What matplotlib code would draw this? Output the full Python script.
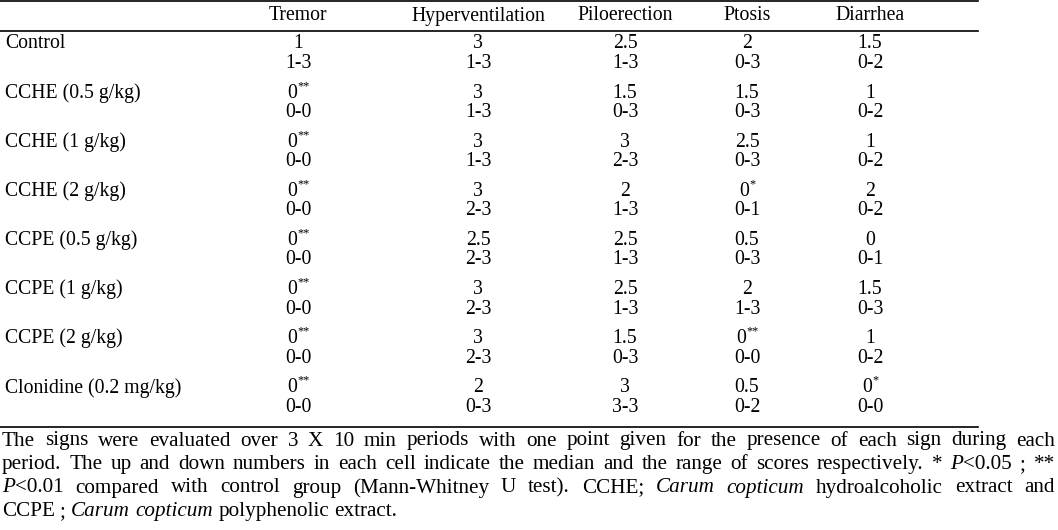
import matplotlib
matplotlib.use('Agg')
import matplotlib.pyplot as plt

plt.rcParams['font.family'] = ['Liberation Serif', 'DejaVu Serif']

columns = ['Tremor', 'Hyperventilation', 'Piloerection', 'Ptosis', 'Diarrhea']
groups = ['Control', 'CCHE (0.5 g/kg)', 'CCHE (1 g/kg)', 'CCHE (2 g/kg)',
          'CCPE (0.5 g/kg)', 'CCPE (1 g/kg)', 'CCPE (2 g/kg)', 'Clonidine (0.2 mg/kg)']
medians = [
    ['1', '3', '2.5', '2', '1.5'],
    ['0', '3', '1.5', '1.5', '1'],
    ['0', '3', '3', '2.5', '1'],
    ['0', '3', '2', '0', '2'],
    ['0', '2.5', '2.5', '0.5', '0'],
    ['0', '3', '2.5', '2', '1.5'],
    ['0', '3', '1.5', '0', '1'],
    ['0', '2', '3', '0.5', '0'],
]
signif = [
    ['', '', '', '', ''],
    ['**', '', '', '', ''],
    ['**', '', '', '', ''],
    ['**', '', '', '*', ''],
    ['**', '', '', '', ''],
    ['**', '', '', '', ''],
    ['**', '', '', '**', ''],
    ['**', '', '', '', '*'],
]
ranges = [
    ['1-3', '1-3', '1-3', '0-3', '0-2'],
    ['0-0', '1-3', '0-3', '0-3', '0-2'],
    ['0-0', '1-3', '2-3', '0-3', '0-2'],
    ['0-0', '2-3', '1-3', '0-1', '0-2'],
    ['0-0', '2-3', '1-3', '0-3', '0-1'],
    ['0-0', '2-3', '1-3', '1-3', '0-3'],
    ['0-0', '2-3', '0-3', '0-0', '0-2'],
    ['0-0', '0-3', '3-3', '0-2', '0-0'],
]
# footnote lines, italic parts between underscores
footnote = [
    "The signs were evaluated over 3 X 10 min periods with one point given for the presence of each sign during each",
    "period. The up and down numbers in each cell indicate the median and the range of scores respectively. * _P_<0.05 ; **",
    "_P_<0.01 compared with control group (Mann-Whitney U test). CCHE; _Carum_ _copticum_ hydroalcoholic extract and",
    "CCPE ; _Carum_ _copticum_ polyphenolic extract.",
]

W, H = 1058, 530
fig = plt.figure(figsize=(W / 100, H / 100), dpi=100)
ax = fig.add_axes([0, 0, 1, 1])
ax.set_xlim(0, W)
ax.set_ylim(H, 0)
ax.axis('off')
fs = 14.2
fs_note = 15.2
col_x = [298, 478, 625, 747, 870]
line_end = 978

ax.plot([0, line_end], [1, 1], color='black', lw=1.2)
ax.plot([0, line_end], [31, 31], color='black', lw=1.2)
ax.plot([0, line_end], [427, 427], color='black', lw=1.2)

for cx, name in zip(col_x, columns):
    ax.text(cx, 16, name, ha='center', va='center', fontsize=fs)

renderer = fig.canvas.get_renderer()

def width_of(t):
    t.draw(renderer)
    return t.get_window_extent(renderer).width

for i, g in enumerate(groups):
    y1 = 44 + i * 49.1
    y2 = y1 + 19.5
    ax.text(5, y1, g, ha='left', va='center', fontsize=fs)
    for j, cx in enumerate(col_x):
        if signif[i][j]:
            t0 = ax.text(0, y1, medians[i][j], ha='left', va='center', fontsize=fs)
            t1 = ax.text(0, y1 - 7, signif[i][j], ha='left', va='center', fontsize=fs * 0.62)
            w0 = width_of(t0)
            w1 = width_of(t1)
            x0 = cx - (w0 + w1) / 2
            t0.set_x(x0)
            t1.set_x(x0 + w0 + 0.5)
        else:
            ax.text(cx, y1, medians[i][j], ha='center', va='center', fontsize=fs)
        ax.text(cx, y2, ranges[i][j], ha='center', va='center', fontsize=fs)

# justified footnote
left, right = 2, 1055
ta = ax.text(0, 0, 'a b', fontsize=fs_note)
tb = ax.text(0, 0, 'ab', fontsize=fs_note)
space_w = width_of(ta) - width_of(tb)
ta.remove()
tb.remove()
for k, line in enumerate(footnote):
    y = 441 + k * 23.5
    items = []
    total = 0
    for w in line.split(' '):
        ts = []
        wsum = 0
        for s_i, s in enumerate(w.split('_')):
            if not s:
                continue
            t = ax.text(0, y, s, ha='left', va='center', fontsize=fs_note,
                        style='italic' if s_i % 2 == 1 else 'normal')
            ww = width_of(t)
            ts.append((t, ww))
            wsum += ww
        items.append((ts, wsum))
        total += wsum
    if k < len(footnote) - 1:
        gap = (right - left - total) / (len(items) - 1)
    else:
        gap = space_w
    x = left
    for ts, wsum in items:
        xx = x
        for t, ww in ts:
            t.set_x(xx)
            xx += ww
        x += wsum + gap

fig.savefig('out.png', dpi=100)
